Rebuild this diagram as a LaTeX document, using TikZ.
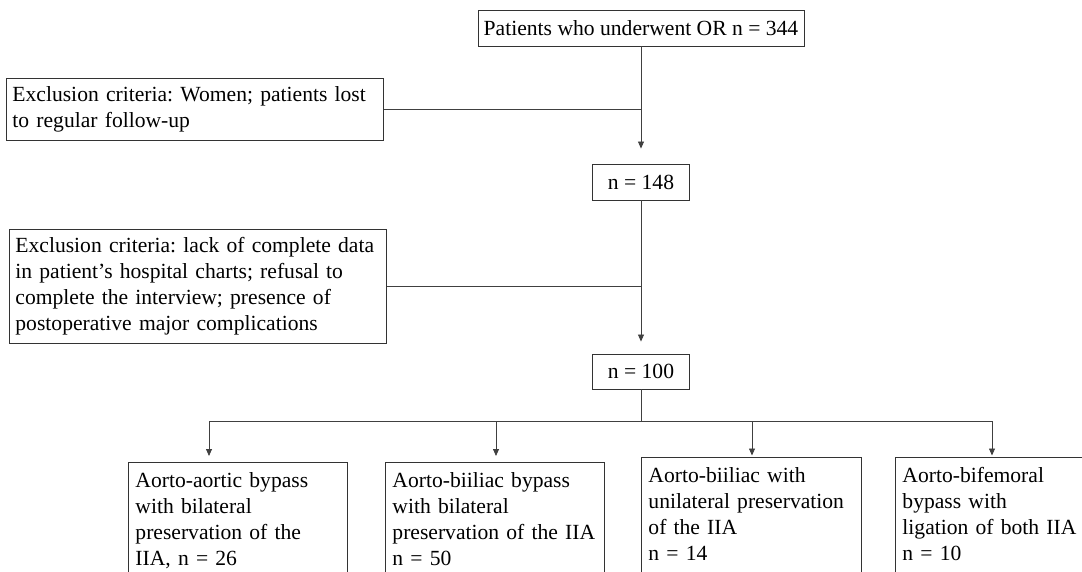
\documentclass[tikz,border=0pt]{standalone}
\usepackage{fontspec}
\setmainfont{Liberation Serif}
\usetikzlibrary{arrows.meta}
\begin{document}
\frenchspacing
\begin{tikzpicture}[x=1pt,y=-1pt,
  line/.style={draw=black!75, line width=0.8pt},
  arr/.style={line, -{Triangle[length=7pt,width=6pt]}},
  box/.style={draw=black!80, line width=0.9pt, font=\fontsize{21.6}{26}\selectfont, inner sep=0pt},
  lbox/.style={box, align=left, anchor=north west, inner xsep=7pt, inner ysep=10pt}
]
\useasboundingbox (0,0) rectangle (1082,571);
\clip (0,0) rectangle (1082,571);

\node[box, minimum width=326pt, minimum height=36pt] (top) at (641,28) {Patients who underwent OR n = 344};
\node[box, anchor=north west, minimum width=377pt, minimum height=62pt, align=left, text width=365pt] (ex1) at (6,78)
  {Exclusion criteria: Women; patients lost\\to regular follow-up};
\node[box, minimum width=97pt, minimum height=36pt] (n148) at (641,182) {n = 148};
\node[box, anchor=north west, minimum width=377pt, minimum height=114pt, align=left, text width=365pt] (ex2) at (9,229)
  {Exclusion criteria: lack of complete data\\in patient’s hospital charts; refusal to\\complete the interview; presence of\\postoperative major complications};
\node[box, minimum width=97pt, minimum height=35pt] (n100) at (641,371.5) {n = 100};

\node[lbox, text width=205pt] (b1) at (128,462) {Aorto-aortic bypass\\with bilateral\\preservation of the\\IIA, n = 26\strut};
\node[lbox, text width=205pt] (b2) at (385,462) {Aorto-biiliac bypass\\with bilateral\\preservation of the IIA\\n = 50\strut};
\node[lbox, text width=206pt] (b3) at (641,457) {Aorto-biiliac with\\unilateral preservation\\of the IIA\\n = 14\strut};
\node[lbox, text width=190pt] (b4) at (895,457) {Aorto-bifemoral\\bypass with\\ligation of both IIA\\n = 10\strut};

\draw[arr, shorten >=15pt] (top.south) -- (n148.north);
\draw[line] (ex1.east) -- (ex1.east -| top.south);
\draw[arr, shorten >=12pt] (n148.south) -- (n100.north);
\draw[line] (ex2.east) -- (ex2.east -| n148.south);

\coordinate (bus) at (641,421);
\coordinate (j1) at (209,421);
\coordinate (j2) at (496,421);
\coordinate (j3) at (752,421);
\coordinate (j4) at (992,421);
\draw[line] (n100.south) -- (bus);
\draw[line] (j1) -- (j4);
\draw[arr, shorten >=6pt] (j1) -- (j1 |- b1.north);
\draw[arr, shorten >=6pt] (j2) -- (j2 |- b2.north);
\draw[arr, shorten >=1.5pt] (j3) -- (j3 |- b3.north);
\draw[arr, shorten >=1.5pt] (j4) -- (j4 |- b4.north);
\end{tikzpicture}
\end{document}
